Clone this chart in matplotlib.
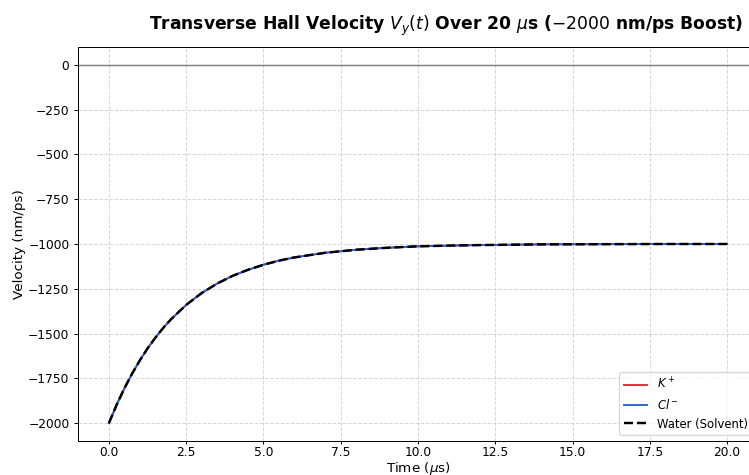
import matplotlib
matplotlib.use("Agg")
import matplotlib.pyplot as plt

# values (all three species overlap)
time_us = [0, 0.25, 0.5, 0.75, 1.0, 1.25, 1.5, 1.75, 2.0, 2.5, 3.0, 3.5, 4.0, 4.5,
           5.0, 5.5, 6.0, 7.0, 8.0, 9.0, 10.0, 11.0, 12.0, 14.0, 16.0, 18.0, 20.0]
vy_k = [-2000, -1898, -1806, -1724, -1650, -1583, -1524, -1470, -1422, -1340, -1274,
        -1221, -1178, -1144, -1116, -1093, -1075, -1049, -1032, -1021, -1013, -1009,
        -1006, -1002, -1001, -1000, -1000]
vy_cl = list(vy_k)
vy_water = list(vy_k)

fig = plt.figure(figsize=(749 / 88, 475 / 88), dpi=88)
ax = fig.add_axes([78 / 749, 34 / 475, 680 / 749, 394 / 475])

ax.axhline(0, color="gray", lw=1.2)
ax.plot(time_us, vy_k, color="#d62728", lw=1.5, label="$K^+$")
ax.plot(time_us, vy_cl, color="#1f5fd6", lw=1.5, label="$Cl^-$")
ax.plot(time_us, vy_water, color="black", lw=2, ls="--", label="Water (Solvent)")

ax.set_xlim(-1, 21)
ax.set_ylim(-2100, 100)
ax.grid(True, ls="--", color="#cccccc", alpha=0.8)
ax.tick_params(axis="x", length=2.5, pad=1.5)
ax.set_xlabel(r"Time ($\mu$s)", fontsize=11, labelpad=1)
ax.set_ylabel("Velocity (nm/ps)", fontsize=11)
ax.yaxis.set_label_coords(-0.076, 0.5)
ax.set_title(r"Transverse Hall Velocity $V_y(t)$ Over 20 $\mu$s ($-2000$ nm/ps Boost)",
             fontsize=14, fontweight="bold", pad=14, x=0.541)
ax.legend(loc="lower right", fontsize=9.5)

fig.savefig("out.png", dpi=88)
